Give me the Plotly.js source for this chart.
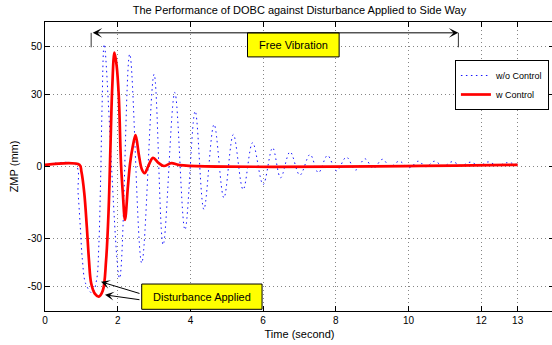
<!DOCTYPE html>
<html>
<head>
<meta charset="utf-8">
<script src="https://cdn.plot.ly/plotly-3.0.1.min.js"></script>
<style>
html, body { margin: 0; padding: 0; overflow: hidden; background: #fff; }
#chart { width: 554px; height: 345px; }
</style>
</head>
<body>
<div id="chart"></div>
<script>
// ---- data ----
const seriesNames = ["w/o Control", "w Control"];

// w/o Control (blue dotted): time (s) and ZMP (mm)
const tBlue = [0, 0.84, 0.91, 0.97, 1.03, 1.12, 1.30, 1.42, 1.48, 1.53, 1.57, 1.63,
  2.05, 2.33, 2.66, 3.00, 3.25, 3.57, 3.85, 4.13, 4.37, 4.65, 4.92, 5.18, 5.45, 5.71,
  6.00, 6.26, 6.48, 6.74, 7.01, 7.29, 7.52, 7.77, 8.02, 8.29, 8.54, 8.80, 9.03, 9.28,
  9.50, 9.74, 10.02, 10.27, 10.48, 10.71, 10.96, 11.20, 11.45, 11.70, 11.95, 12.19,
  12.45, 12.70, 13.00];
const yBlue = [0.7, 0.7, -11, -25, -39, -48.7, -52.6, -47, -33, -5, 25, 50.8,
  -46.4, 46.7, -40.1, 38.3, -32.5, 30.7, -26.3, 23.0, -17.8, 17.5, -13.0, 13.3, -9.6, 9.9,
  -7.5, 7.8, -4.7, 6.1, -3.6, 5.0, -2.6, 4.6, -1.8, 3.9, -1.5, 3.2, -0.8, 3.0,
  -0.1, 2.2, -0.5, 2.2, -0.1, 2.2, 0.1, 2.0, 0.4, 1.8, 0.3, 1.9,
  0.4, 1.6, 0.8];

// w Control (red solid)
const tRed = [0, 0.95, 1.00, 1.08, 1.15, 1.21, 1.27, 1.37, 1.48, 1.59, 1.68, 1.75, 1.80,
  1.85, 1.91, 1.97, 2.03, 2.09, 2.14, 2.20, 2.28, 2.34, 2.41, 2.49, 2.58, 2.66, 2.74,
  2.85, 2.97, 3.12, 3.27, 3.48, 3.70, 13.00];
const yRed = [0.7, 0.7, -2, -11, -25, -39, -48.5, -52.8, -54, -51.5, -39, -18, 8,
  33, 47.3, 42, 29, 1.3, -11, -22.2, -8.4, 1.3, 8, 13, 5, -1, -2.8,
  0.5, 3.6, 1.5, 0.2, 1.4, 0.6, 0.7];

const xTicks = [0, 2, 4, 6, 8, 10, 12, 13];
const yTicks = [-50, -30, 0, 30, 50];

const titleText = "The Performance of DOBC against Disturbance Applied to Side Way";
const xTitle = "Time (second)";
const yTitle = "ZMP (mm)";
const noteFree = "Free Vibration";
const noteDist = "Disturbance Applied";

// ---- chart ----
const FONT = "Liberation Sans, Arial, Helvetica, sans-serif";

const traces = [
  {
    x: tBlue, y: yBlue, name: seriesNames[0], type: "scatter", mode: "lines",
    line: { color: "rgb(20,20,255)", width: 1, dash: "1.5px,3.5px", shape: "spline", smoothing: 1 }
  },
  {
    x: tRed, y: yRed, name: seriesNames[1], type: "scatter", mode: "lines",
    line: { color: "rgb(255,0,0)", width: 2.7, shape: "spline", smoothing: 1 }
  }
];

const axisCommon = {
  ticks: "inside", ticklen: 5, tickwidth: 1, tickcolor: "black",
  mirror: "ticks", showline: true, linecolor: "black", linewidth: 1,
  showgrid: true, gridcolor: "#858585", gridwidth: 1, griddash: "1px,3px",
  zeroline: false, tickfont: { family: FONT, size: 10, color: "black" },
  fixedrange: true
};

const layout = {
  width: 554, height: 345,
  margin: { l: 45, r: 0, t: 22, b: 34 },
  paper_bgcolor: "white", plot_bgcolor: "white",
  font: { family: FONT, size: 10, color: "black" },
  title: {
    text: titleText, font: { family: FONT, size: 11, color: "black" },
    xref: "paper", x: 0.5, xanchor: "center",
    yref: "container", y: 1 - 10 / 345, yanchor: "middle"
  },
  xaxis: Object.assign({}, axisCommon, {
    range: [0, 14], tickmode: "array", tickvals: xTicks, ticktext: xTicks.map(String),
    title: { text: xTitle, font: { family: FONT, size: 11, color: "black" }, standoff: 5 }
  }),
  yaxis: Object.assign({}, axisCommon, {
    range: [-60, 60], tickmode: "array", tickvals: yTicks, ticktext: yTicks.map(String),
    title: { text: yTitle, font: { family: FONT, size: 11, color: "black" }, standoff: 6 }
  }),
  showlegend: true,
  legend: {
    x: 0.990, xanchor: "right", y: 0.8685, yanchor: "top",
    bgcolor: "white", bordercolor: "black", borderwidth: 1,
    font: { family: FONT, size: 9, color: "black" }
  },
  shapes: [
    { type: "rect", xref: "x", yref: "y", x0: 5.57, x1: 8.09, y0: 45.5, y1: 55.5,
      fillcolor: "rgb(255,255,0)", line: { color: "black", width: 1 }, layer: "above" },
    { type: "rect", xref: "x", yref: "y", x0: 2.66, x1: 5.97, y0: -59.3, y1: -48.8,
      fillcolor: "rgb(255,255,0)", line: { color: "black", width: 1 }, layer: "above" },
    { type: "line", xref: "x", yref: "y", x0: 1.27, x1: 1.27, y0: 49.5, y1: 55.5,
      line: { color: "#333", width: 1 }, layer: "above" },
    { type: "line", xref: "x", yref: "y", x0: 11.37, x1: 11.37, y0: 49.5, y1: 55.5,
      line: { color: "#333", width: 1 }, layer: "above" }
  ],
  annotations: [
    { xref: "x", yref: "y", x: 6.83, y: 50.5, text: noteFree, showarrow: false,
      font: { family: FONT, size: 11, color: "black" } },
    { xref: "x", yref: "y", x: 4.315, y: -54.05, text: noteDist, showarrow: false,
      font: { family: FONT, size: 11, color: "black" } },
    { xref: "x", yref: "y", axref: "x", ayref: "y", x: 11.37, y: 55.5, ax: 1.27, ay: 55.5,
      text: "", showarrow: true, arrowside: "end+start", arrowhead: 3, startarrowhead: 3,
      arrowsize: 1.6, startarrowsize: 1.6, arrowwidth: 1, arrowcolor: "black", standoff: 0, startstandoff: 0 },
    { xref: "x", yref: "y", axref: "x", ayref: "y", x: 1.54, y: -47.9, ax: 2.64, ay: -52.9,
      text: "", showarrow: true, arrowhead: 3, arrowsize: 1.5, arrowwidth: 1, arrowcolor: "black" },
    { xref: "x", yref: "y", axref: "x", ayref: "y", x: 1.65, y: -53.3, ax: 2.64, ay: -55.4,
      text: "", showarrow: true, arrowhead: 3, arrowsize: 1.5, arrowwidth: 1, arrowcolor: "black" }
  ]
};

Plotly.newPlot("chart", traces, layout, { displayModeBar: false, staticPlot: true });
</script>
</body>
</html>
